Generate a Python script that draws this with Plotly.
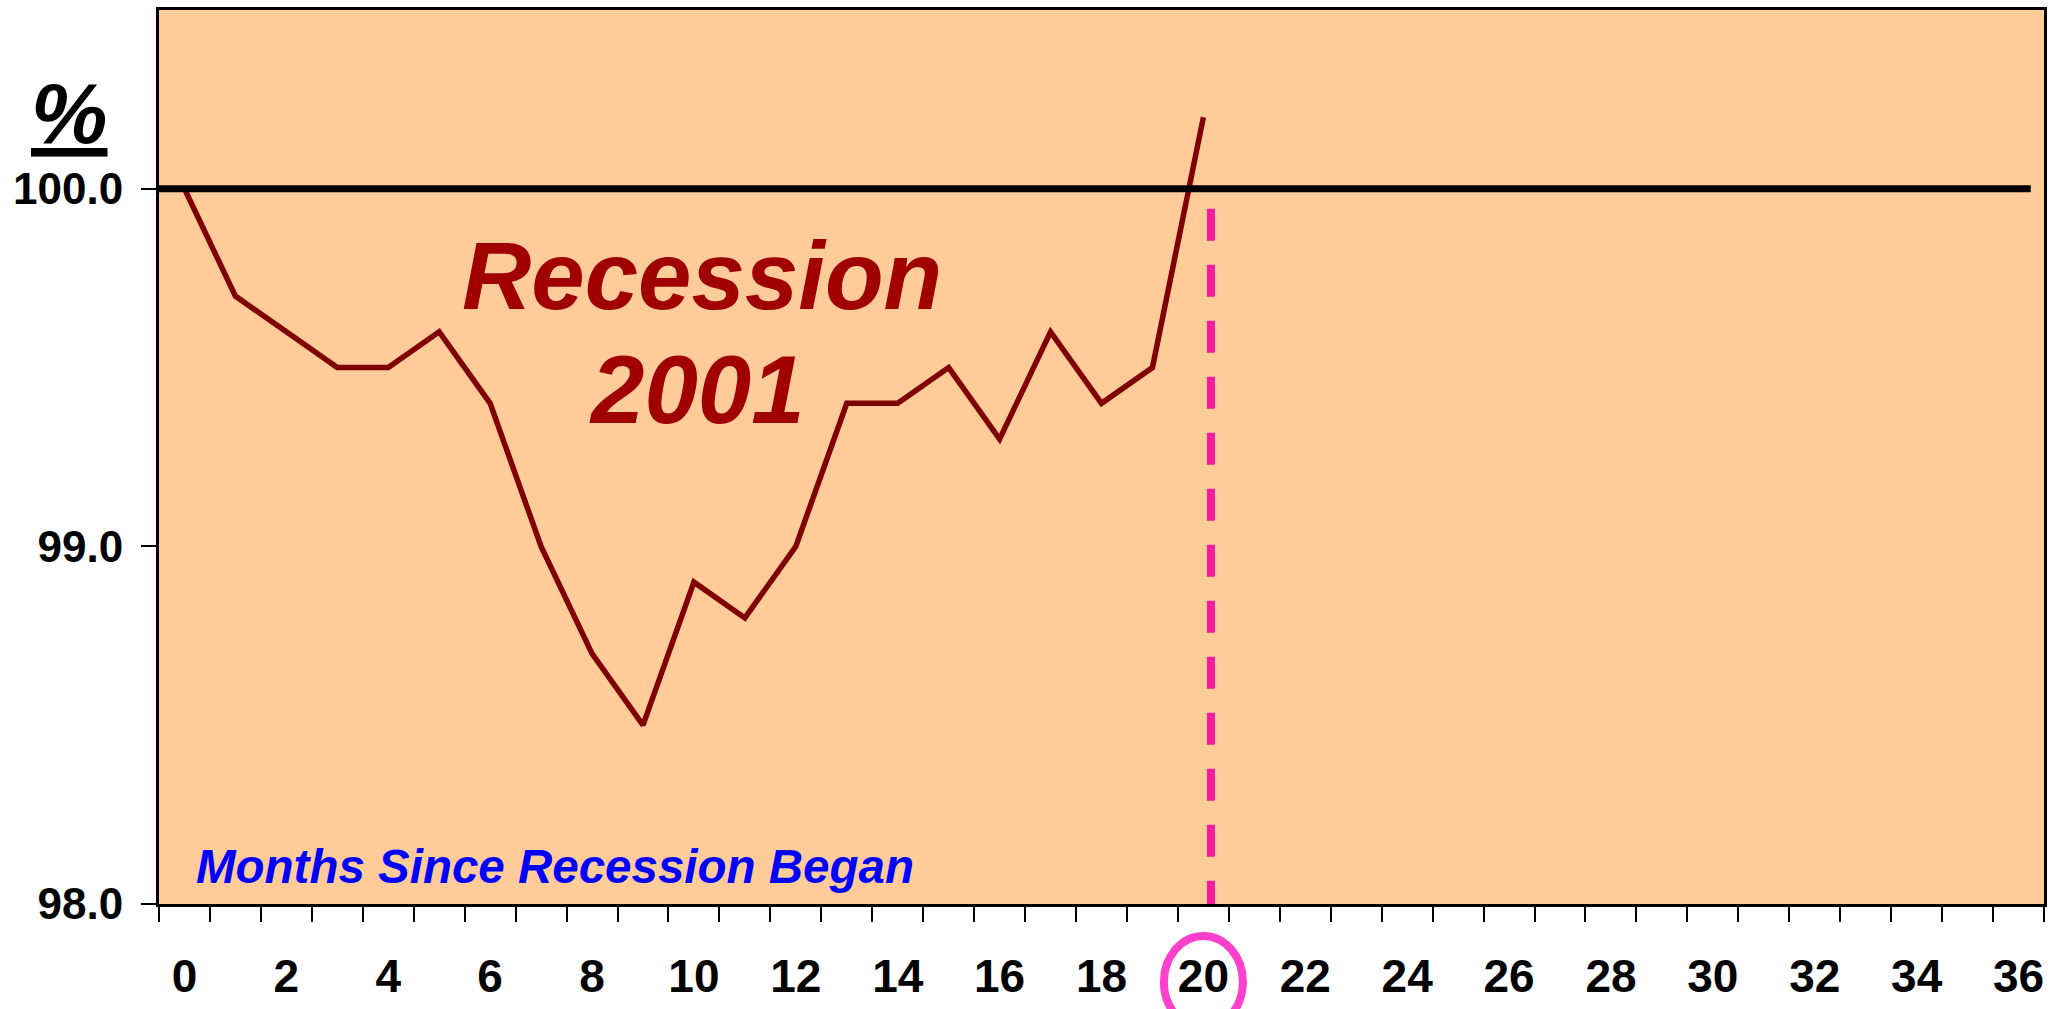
import plotly.graph_objects as go

# ---- data ----
months = list(range(0, 21))
values = [100.0, 99.7, 99.6, 99.5, 99.5, 99.6, 99.4, 99.0, 98.7, 98.5, 98.9,
          98.8, 99.0, 99.4, 99.4, 99.5, 99.3, 99.6, 99.4, 99.5, 100.2]
x_tick_vals = list(range(0, 37, 2))
x_tick_text = [str(v) for v in x_tick_vals]
y_tick_vals = [98.0, 99.0, 100.0]
y_tick_text = ["98.0", "99.0", "100.0"]
baseline_value = 100.0
marker_month = 20.15      # dashed "now" marker
circled_month = 20        # circled tick label
marker_top = 99.944

FONT = "Liberation Sans, Arial, sans-serif"

fig = go.Figure()
fig.add_trace(go.Scatter(
    x=months, y=values, mode="lines",
    line=dict(color="#800000", width=5.5),
    showlegend=False, hoverinfo="skip",
))

fig.add_shape(type="line", xref="x", yref="y",
              x0=-0.5, x1=36.24, y0=baseline_value, y1=baseline_value,
              line=dict(color="black", width=7), layer="above")
fig.add_shape(type="line", xref="x", yref="y",
              x0=marker_month, x1=marker_month, y0=marker_top, y1=97.99,
              line=dict(color="#F21C9C", width=8, dash="32px,24px"), layer="above")
fig.add_shape(type="circle", xref="x", yref="paper",
              xsizemode="pixel", ysizemode="pixel",
              xanchor=circled_month, yanchor=0,
              x0=-39.5, x1=39.5, y0=-124, y1=-32,
              line=dict(color="#FF40CC", width=8))

fig.add_annotation(xref="paper", yref="paper", x=-0.0477, y=0.885,
                   text="<b><i><u>%</u></i></b>", showarrow=False,
                   font=dict(family=FONT, size=86, color="black"),
                   xanchor="center", yanchor="middle")
fig.add_annotation(xref="x", yref="y", x=10.16, y=99.758,
                   text="<b><i>Recession</i></b>", showarrow=False,
                   font=dict(family=FONT, size=96, color="#A00000"),
                   xanchor="center", yanchor="middle")
fig.add_annotation(xref="x", yref="y", x=10.06, y=99.439,
                   text="<b><i>2001</i></b>", showarrow=False,
                   font=dict(family=FONT, size=96, color="#A00000"),
                   xanchor="center", yanchor="middle")
fig.add_annotation(xref="paper", yref="paper", x=0.0186, y=0.0422,
                   text="<b><i>Months Since Recession Began</i></b>", showarrow=False,
                   font=dict(family=FONT, size=47.5, color="#0000FF"),
                   xanchor="left", yanchor="middle")

fig.update_layout(
    width=2065, height=1009,
    margin=dict(l=159, r=21, t=7, b=102),
    paper_bgcolor="white", plot_bgcolor="#FFCC99",
    font=dict(family=FONT, color="black"),
    xaxis=dict(
        range=[-0.5, 36.5], tickmode="array",
        tickvals=x_tick_vals, ticktext=x_tick_text,
        ticks="", ticklabelstandoff=30,
        tickfont=dict(family=FONT, size=46, color="black", weight="bold"),
        showline=True, linecolor="black", linewidth=3, mirror=True,
        showgrid=False, zeroline=False,
        minor=dict(tick0=-0.5, dtick=1, ticks="outside", ticklen=15,
                   tickwidth=2, tickcolor="black", showgrid=False),
    ),
    yaxis=dict(
        range=[98, 100.5], tickmode="array",
        tickvals=y_tick_vals, ticktext=y_tick_text,
        ticks="outside", ticklen=15, tickwidth=2, tickcolor="black",
        ticklabelstandoff=9,
        tickfont=dict(family=FONT, size=44, color="black", weight="bold"),
        showline=True, linecolor="black", linewidth=3, mirror=True,
        showgrid=False, zeroline=False,
    ),
)

fig.write_html("out.html", config={"displayModeBar": False},
               post_script="document.body.style.margin='0';document.body.style.overflow='hidden';")
